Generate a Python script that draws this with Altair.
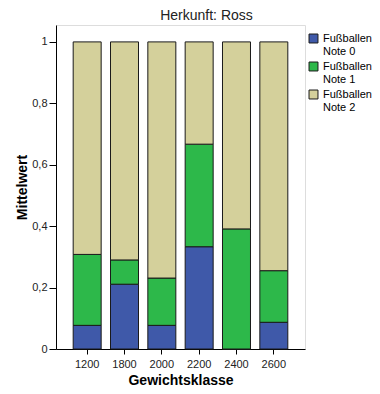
import altair as alt
import pandas as pd

klassen = ["1200", "1800", "2000", "2200", "2400", "2600"]
note0 = [0.077, 0.211, 0.077, 0.333, 0.0, 0.087]
note1 = [0.231, 0.079, 0.154, 0.334, 0.391, 0.168]
note2 = [0.692, 0.710, 0.769, 0.333, 0.609, 0.745]
kategorien = ["Fußballen|Note 0", "Fußballen|Note 1", "Fußballen|Note 2"]
farben = ["#3F59A9", "#2DB84A", "#D4D09B"]

rows = []
for i, k in enumerate(klassen):
    for j, vals in enumerate([note0, note1, note2]):
        rows.append({"Gewichtsklasse": k, "Kategorie": kategorien[j], "Wert": vals[i], "ord": j})
df = pd.DataFrame(rows)

font = "Liberation Sans"

chart = alt.Chart(df).mark_bar(stroke="#1a1a1a", strokeWidth=1).encode(
    x=alt.X("Gewichtsklasse:N", sort=klassen,
            scale=alt.Scale(paddingInner=0.25, paddingOuter=0.46),
            axis=alt.Axis(title="Gewichtsklasse", labelAngle=0, labelFontSize=11,
                          titleFontSize=14, titleFontWeight="bold", tickSize=5,
                          labelPadding=4, titlePadding=4, domainColor="black",
                          tickColor="black", labelColor="#222")),
    y=alt.Y("Wert:Q", stack="zero",
            scale=alt.Scale(domain=[0, 1.055], nice=False),
            axis=alt.Axis(title="Mittelwert", values=[0, 0.2, 0.4, 0.6, 0.8, 1],
                          labelExpr="replace(format(datum.value, '~g'), '.', ',')",
                          grid=False, labelFontSize=11, titleFontSize=14,
                          titleFontWeight="bold", tickSize=7, labelPadding=2,
                          titlePadding=2, domainColor="black", tickColor="black",
                          labelColor="#222")),
    color=alt.Color("Kategorie:N", sort=kategorien,
                    scale=alt.Scale(domain=kategorien, range=farben),
                    legend=alt.Legend(title=None, labelExpr="split(datum.label, '|')",
                                      orient="none", legendX=252, legendY=8,
                                      symbolType="square", symbolSize=80,
                                      symbolStrokeColor="#1a1a1a", symbolStrokeWidth=1,
                                      labelFontSize=11, labelLimit=100,
                                      rowPadding=3, padding=0)),
    order=alt.Order("ord:Q", sort="ascending"),
).properties(
    width=249, height=324,
    title=alt.TitleParams("Herkunft: Ross", fontSize=14, fontWeight="normal",
                          anchor="middle", dx=26, offset=2, color="#222"),
    autosize=alt.AutoSizeParams(type="none"),
    padding={"left": 48, "top": 17, "right": 67, "bottom": 37},
).configure_view(
    stroke="black", strokeWidth=1.5
).configure(font=font, background="white")

chart.save("out.html", embed_options={"renderer": "svg", "actions": False})
